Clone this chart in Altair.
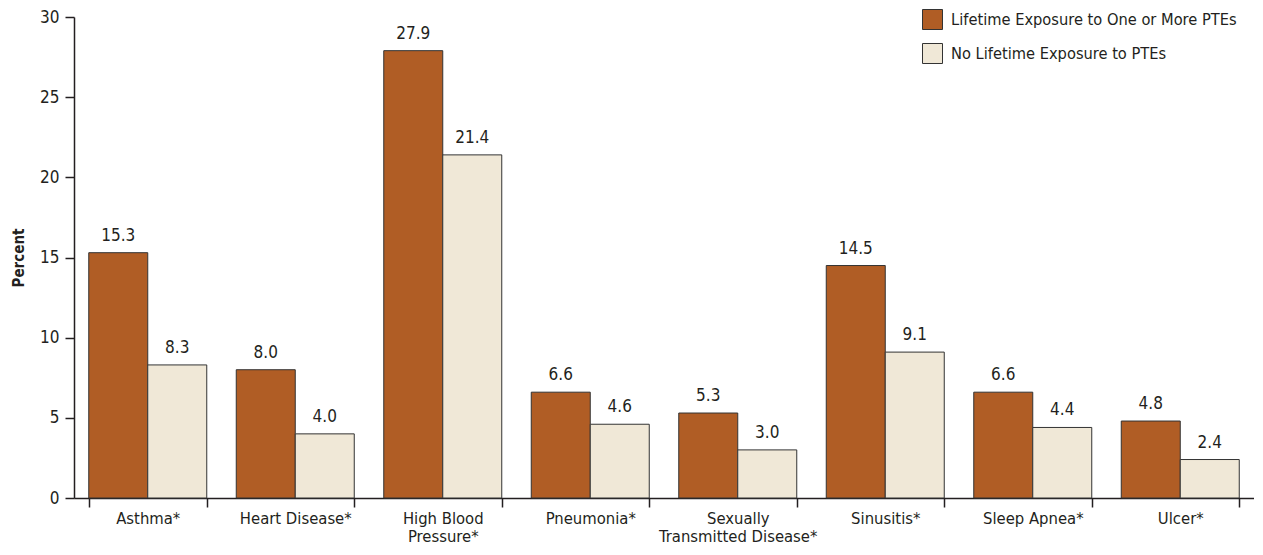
import altair as alt
import pandas as pd

categories = ["Asthma*", "Heart Disease*", "High Blood|Pressure*", "Pneumonia*",
              "Sexually|Transmitted Disease*", "Sinusitis*", "Sleep Apnea*", "Ulcer*"]
exposed = [15.3, 8.0, 27.9, 6.6, 5.3, 14.5, 6.6, 4.8]
not_exposed = [8.3, 4.0, 21.4, 4.6, 3.0, 9.1, 4.4, 2.4]
groups = ["Lifetime Exposure to One or More PTEs", "No Lifetime Exposure to PTEs"]
colors = ["#B05D25", "#F0E8D7"]
y_ticks = [0, 5, 10, 15, 20, 25, 30]

rows = []
for c, a, b in zip(categories, exposed, not_exposed):
    rows.append({"cat": c, "grp": groups[0], "val": a})
    rows.append({"cat": c, "grp": groups[1], "val": b})
df = pd.DataFrame(rows)

FONT = "DejaVu Sans Condensed, Liberation Sans, sans-serif"
INK = "#231f20"

x = alt.X(
    "cat:N", sort=categories,
    scale=alt.Scale(paddingInner=0.2, paddingOuter=0.1),
    axis=alt.Axis(
        title=None, labelAngle=0, labelExpr="split(datum.label, '|')",
        tickBand="extent", tickSize=9, tickColor=INK, tickWidth=1.5,
        domainColor=INK, domainWidth=1.5, labelFont=FONT, labelFontSize=16.5,
        labelColor=INK, labelPadding=3, labelLineHeight=18, labelBaseline="top",
    ),
)
xo = alt.XOffset("grp:N", sort=groups, scale=alt.Scale(paddingInner=0, paddingOuter=0))
y = alt.Y(
    "val:Q",
    scale=alt.Scale(domain=[0, 30], nice=False),
    axis=alt.Axis(
        title="Percent", values=y_ticks, grid=False, tickSize=9, tickColor=INK,
        tickWidth=1.5, domainColor=INK, domainWidth=1.5, labelFont=FONT,
        labelFontSize=17, labelColor=INK, labelPadding=6, titleFont=FONT,
        titleFontSize=15, titleFontWeight="bold", titleColor=INK, titlePadding=13,
    ),
)

bars = alt.Chart(df).mark_bar(stroke="#333333", strokeWidth=1).encode(
    x=x, xOffset=xo, y=y,
    color=alt.Color(
        "grp:N", sort=groups,
        scale=alt.Scale(domain=groups, range=colors),
        legend=alt.Legend(
            title=None, orient="none", legendX=848, legendY=-8,
            symbolType="square", symbolSize=400, symbolStrokeColor="#333333",
            symbolStrokeWidth=1, labelFont=FONT, labelFontSize=16.3,
            labelColor=INK, labelOffset=8, rowPadding=9, labelLimit=400,
        ),
    ),
)

labels = alt.Chart(df).mark_text(
    dy=-8, baseline="bottom", font=FONT, fontSize=17, color=INK
).encode(
    x=x, xOffset=xo, y=y, text=alt.Text("val:Q", format=".1f")
)

chart = (bars + labels).properties(
    width=1180, height=481,
    autosize=alt.AutoSizeParams(type="none"),
    padding={"left": 66, "top": 9, "right": 0, "bottom": 47},
).configure_view(stroke=None)

chart.save("out.html", embed_options={"renderer": "svg", "actions": False})
